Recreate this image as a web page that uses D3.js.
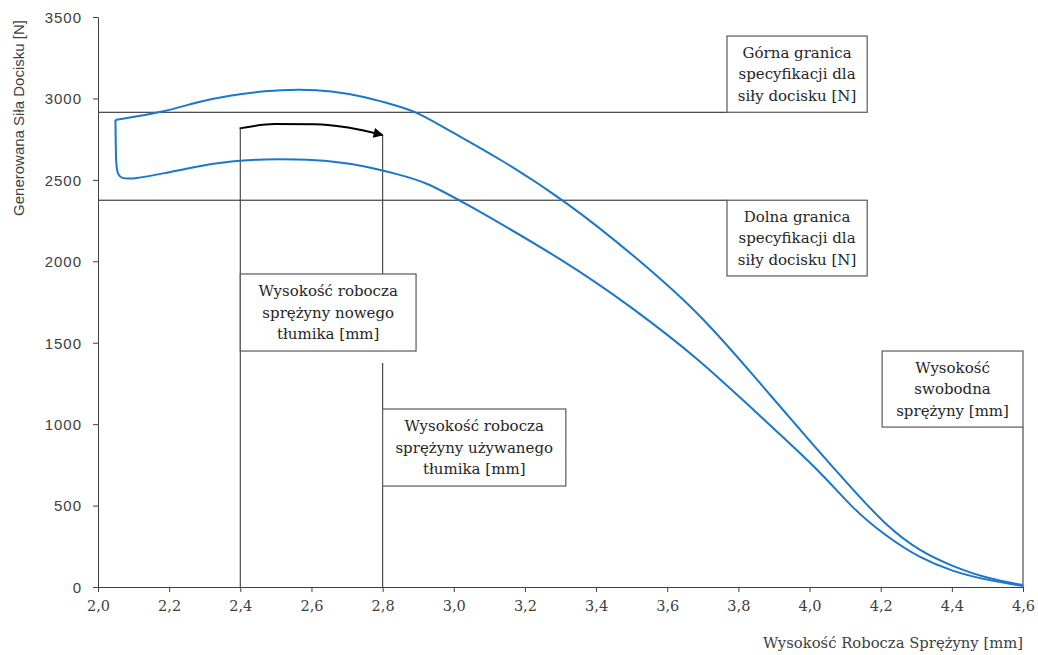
<!DOCTYPE html>
<html>
<head>
<meta charset="utf-8">
<script src="https://cdn.jsdelivr.net/npm/d3@7"></script>
<style>
    body { margin: 0; background: #fff; }
    svg { display: block; }
    .axis text { fill: #404040; }
    .note text { font-family: "DejaVu Serif", serif; font-size: 15px; fill: #262626; }
</style>
</head>
<body>
<div id="chart"></div>
<script>

// spring height [mm] / force [N] - loading branch (upper curve)
const upperX = [2.049, 2.094, 2.187, 2.281, 2.375, 2.469, 2.562, 2.656, 2.75, 2.843, 2.899, 2.989, 3.13, 3.317, 3.505, 3.692, 3.842, 4.029, 4.123, 4.217, 4.311, 4.404, 4.498, 4.6];
const upperF = [2868, 2884, 2918, 2980, 3021, 3046, 3056, 3048, 3011, 2954, 2915, 2800, 2630, 2366, 2039, 1680, 1300, 823, 596, 372, 217, 125, 53, 12];

// unloading branch (lower curve)
const lowerX = [2.049, 2.05, 2.051, 2.056, 2.066, 2.094, 2.187, 2.281, 2.375, 2.469, 2.562, 2.656, 2.75, 2.843, 2.918, 3.017, 3.317, 3.505, 3.692, 3.842, 4.029, 4.123, 4.217, 4.311, 4.404, 4.498, 4.6];
const lowerF = [2868, 2700, 2590, 2530, 2510, 2503, 2540, 2585, 2616, 2628, 2626, 2616, 2585, 2534, 2489, 2376, 1998, 1711, 1394, 1087, 715, 475, 309, 176, 94, 43, 6];

// arrow between new and used working height
const arrowX = [2.398, 2.497, 2.609, 2.703, 2.8];
const arrowF = [2816, 2843, 2841, 2821, 2775];

// specification limits and characteristic heights
const upperLimit = 2915;
const lowerLimit = 2375;
const newHeight = 2.4;
const usedHeight = 2.8;
const freeHeight = 4.6;

// ticks
const xTicks = [2.0, 2.2, 2.4, 2.6, 2.8, 3.0, 3.2, 3.4, 3.6, 3.8, 4.0, 4.2, 4.4, 4.6];
const xTickLabels = ["2,0", "2,2", "2,4", "2,6", "2,8", "3,0", "3,2", "3,4", "3,6", "3,8", "4,0", "4,2", "4,4", "4,6"];
const yTicks = [0, 500, 1000, 1500, 2000, 2500, 3000, 3500];

const xTitle = "Wysokość Robocza Sprężyny [mm]";
const yTitle = "Generowana Siła Docisku [N]";

// annotation texts
const upperNote = ["Górna granica", "specyfikacji dla", "siły docisku [N]"];
const lowerNote = ["Dolna granica", "specyfikacji dla", "siły docisku [N]"];
const newNote = ["Wysokość robocza", "sprężyny nowego", "tłumika [mm]"];
const usedNote = ["Wysokość robocza", "sprężyny używanego", "tłumika [mm]"];
const freeNote = ["Wysokość", "swobodna", "sprężyny [mm]"];

const w = 1038, h = 655;
const margin = {top: 17, right: 15, bottom: 68, left: 98};

let svg = d3.select("#chart")
    .append("svg")
    .attr("width", w)
    .attr("height", h);

// scales
const xScale = d3.scaleLinear().domain([2.0, 4.6]).range([margin.left, w - margin.right]);
const yScale = d3.scaleLinear().domain([0, 3500]).range([h - margin.bottom, margin.top]);

// arrow head
svg.append("defs").append("marker")
    .attr("id", "head")
    .attr("viewBox", "0 0 10 10")
    .attr("refX", 9)
    .attr("refY", 5)
    .attr("markerWidth", 6)
    .attr("markerHeight", 5)
    .attr("markerUnits", "strokeWidth")
    .attr("orient", "auto")
    .append("path")
    .attr("d", "M0,0 L10,5 L0,10 z")
    .attr("fill", "#000");

// horizontal limit lines (end where the note boxes start)
const noteLeft = 3.768, noteRight = 4.162;
[upperLimit, lowerLimit].forEach(function(v) {
    svg.append("line")
        .attr("x1", xScale(2.0)).attr("x2", xScale(noteLeft))
        .attr("y1", yScale(v)).attr("y2", yScale(v))
        .attr("stroke", "#1a1a1a").attr("stroke-width", 1);
});

// vertical marker lines
function vline(x, f0, f1) {
    svg.append("line")
        .attr("x1", xScale(x)).attr("x2", xScale(x))
        .attr("y1", yScale(f0)).attr("y2", yScale(f1))
        .attr("stroke", "#4d4d4d").attr("stroke-width", 1.2);
}
vline(newHeight, arrowF[0], 0);
vline(usedHeight, arrowF[arrowF.length - 1], 1922);
vline(usedHeight, 1375, 0);
vline(freeHeight, 982, 0);

// curves
let line = d3.line()
    .curve(d3.curveBasis)
    .x(d => xScale(d[0]))
    .y(d => yScale(d[1]));

svg.append("path")
    .datum(d3.zip(upperX, upperF))
    .attr("d", line)
    .attr("fill", "none")
    .attr("stroke", "#1a77c9")
    .attr("stroke-width", 2);

svg.append("path")
    .datum(d3.zip(lowerX, lowerF))
    .attr("d", line)
    .attr("fill", "none")
    .attr("stroke", "#1a77c9")
    .attr("stroke-width", 2);

// arrow
svg.append("path")
    .datum(d3.zip(arrowX, arrowF))
    .attr("d", d3.line().curve(d3.curveMonotoneX).x(d => xScale(d[0])).y(d => yScale(d[1])))
    .attr("fill", "none")
    .attr("stroke", "#000")
    .attr("stroke-width", 2)
    .attr("marker-end", "url(#head)");

// axes
let yAxis = svg.append("g")
    .attr("class", "axis")
    .attr("transform", `translate(${margin.left},0)`)
    .call(d3.axisLeft(yScale).tickValues(yTicks).tickSize(5).tickSizeOuter(0).tickPadding(11).tickFormat(d => d));
yAxis.selectAll("text")
    .attr("font-family", "'Liberation Sans', sans-serif")
    .attr("font-size", 15)
    .attr("letter-spacing", 1)
    .attr("dy", "0.36em");

let xAxis = svg.append("g")
    .attr("class", "axis")
    .attr("transform", `translate(0,${h - margin.bottom})`)
    .call(d3.axisBottom(xScale).tickValues(xTicks).tickSize(5).tickSizeOuter(0).tickPadding(9).tickFormat((d, i) => xTickLabels[i]));
xAxis.selectAll("text").attr("font-family", "'DejaVu Serif', serif").attr("font-size", 14.5);

svg.selectAll(".axis path, .axis line").attr("stroke", "#404040");

// axis titles
svg.append("text")
    .attr("x", w - margin.right)
    .attr("y", 648)
    .attr("text-anchor", "end")
    .attr("font-family", "'DejaVu Serif', serif")
    .attr("font-size", 14.8)
    .attr("fill", "#404040")
    .text(xTitle);

svg.append("text")
    .attr("transform", "translate(24,118) rotate(-90)")
    .attr("text-anchor", "middle")
    .attr("font-family", "'Liberation Sans', sans-serif")
    .attr("font-size", 15)
    .attr("fill", "#404040")
    .text(yTitle);

// note boxes, corners given in data units
function note(x0, x1, f0, f1, lines) {
    let g = svg.append("g").attr("class", "note");
    let left = xScale(x0), right = xScale(x1), top = yScale(f0), bottom = yScale(f1);
    g.append("rect")
        .attr("x", left).attr("y", top)
        .attr("width", right - left).attr("height", bottom - top)
        .attr("fill", "#fff")
        .attr("stroke", "#595959")
        .attr("stroke-width", 1.2);
    let cy = (top + bottom) / 2;
    lines.forEach(function(t, i) {
        g.append("text")
            .attr("x", (left + right) / 2)
            .attr("y", cy + (i - 1) * 21.5)
            .attr("dy", "0.35em")
            .attr("text-anchor", "middle")
            .text(t);
    });
}

note(noteLeft, noteRight, 3383, upperLimit, upperNote);
note(noteLeft, noteRight, lowerLimit, 1910, lowerNote);
note(newHeight, 2.894, 1922, 1449, newNote);
note(usedHeight, 3.315, 1093, 620, usedNote);
note(4.204, freeHeight, 1449, 982, freeNote);

</script>
</body>
</html>
